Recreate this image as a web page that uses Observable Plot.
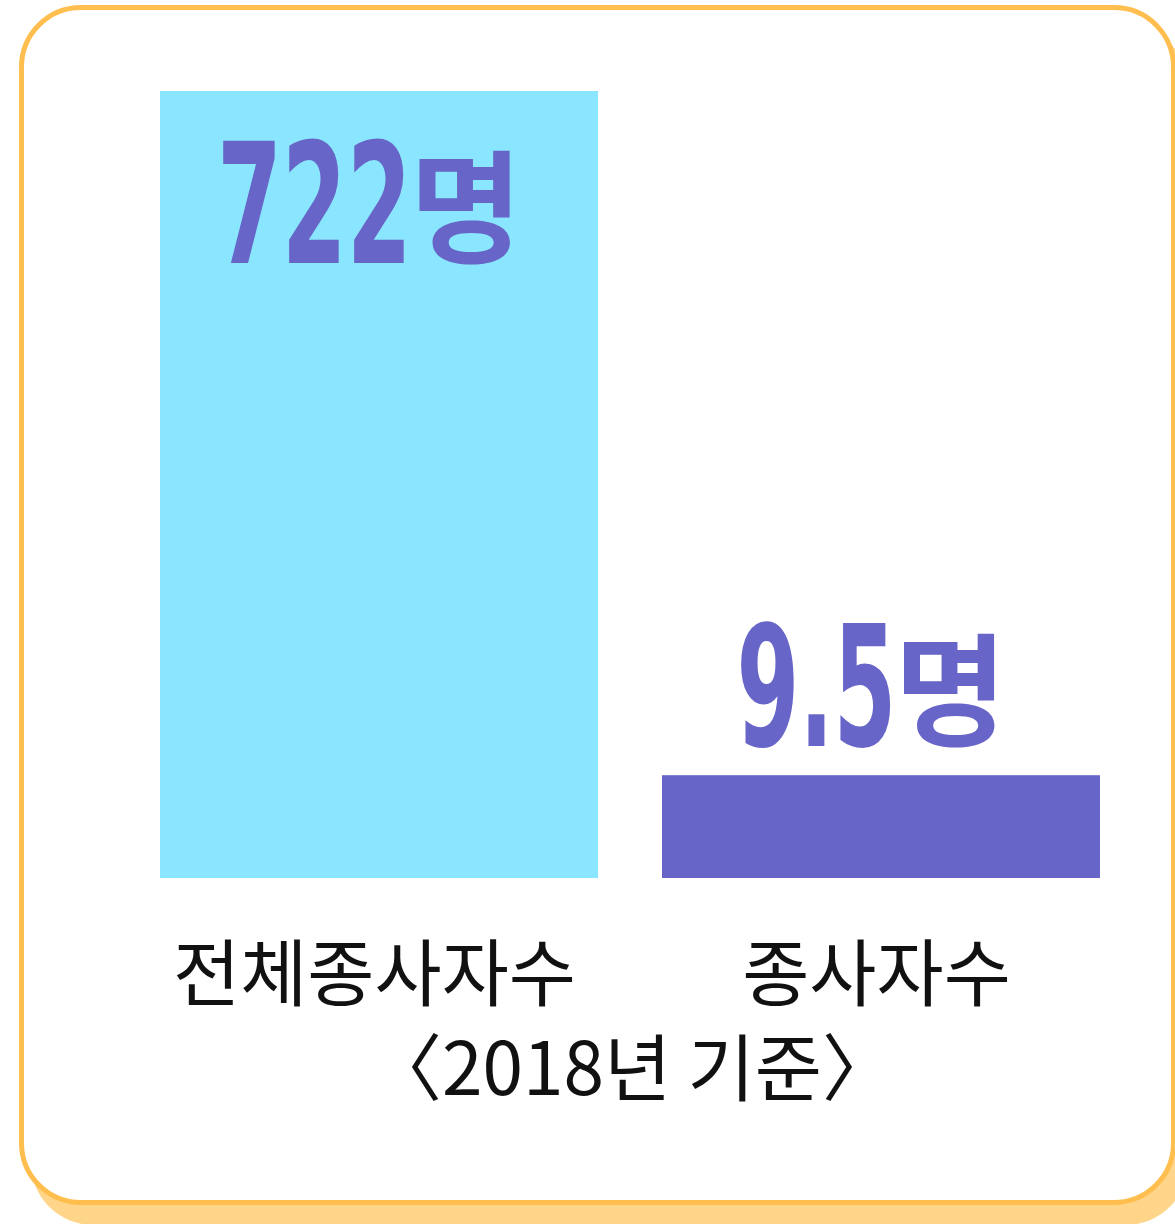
<!DOCTYPE html>
<html>
<head>
<meta charset="utf-8">
<script src="https://cdn.jsdelivr.net/npm/d3@7"></script>
<script src="https://cdn.jsdelivr.net/npm/@observablehq/plot@0.6"></script>
<style>
  html, body { margin: 0; padding: 0; background: #fff; }
  #wrap { position: relative; width: 1175px; height: 1224px; overflow: hidden; font-family: "Noto Sans CJK KR", sans-serif; }
  #shadow { position: absolute; left: 31px; top: 25px; width: 1157px; height: 1200px; border-radius: 62px; background: #FFD58A; }
  #box { position: absolute; left: 19px; top: 5px; width: 1157px; height: 1200px; box-sizing: border-box; border: 5px solid #FFBE4D; border-radius: 62px; background: #fff; }
  #chart { position: absolute; left: 0; top: 0; }
  #caption { position: absolute; top: 1027px; left: 632px; transform: translateX(-50%); white-space: nowrap;
             font-family: "Noto Sans CJK KR", sans-serif; font-size: 73px; line-height: 1; color: #111; }
</style>
</head>
<body>
<div id="wrap">
  <div id="shadow"></div>
  <div id="box"></div>
  <div id="chart"></div>
  <div id="caption">〈2018년 기준〉</div>
</div>
<script>
// ---- data ----
const categories = ["전체종사자수", "종사자수"];
const values = [722, 9.5];
const valueLabels = ["722", "9.5"];
const unit = "명";
const colors = ["#8AE6FE", "#6865C8"];

const data = categories.map((c, i) => ({category: c, value: values[i], label: valueLabels[i], color: colors[i]}));
const maxValue = d3.max(values);
const inside = data.filter(d => d.value === maxValue);
const above = data.filter(d => d.value !== maxValue);

const labelColor = "#6865C8";
const labelOpts = {
  x: "category", y: "value", text: "label",
  textAnchor: "middle", lineAnchor: "bottom",
  fill: labelColor, fontSize: 168, fontWeight: "bold",
  fontFamily: "'Liberation Sans Narrow', 'DejaVu Sans Condensed', Roboto, sans-serif",
  dx: -10
};

const plot = Plot.plot({
  width: 1175,
  height: 1024,
  marginLeft: 160,
  marginRight: 74,
  marginTop: 91,
  marginBottom: 146,
  style: {background: "none", color: "#111"},
  x: {type: "band", domain: categories, paddingInner: 0.127, paddingOuter: 0, label: null},
  y: {type: "pow", exponent: 0.47, domain: [0, maxValue], axis: null},
  color: {type: "identity"},
  marks: [
    Plot.barY(data, {x: "category", y: "value", fill: "color"}),
    Plot.text(inside, {...labelOpts, dy: 171}),
    Plot.text(above, {...labelOpts, dy: -30}),
    Plot.axisX({tickSize: 0, tickPadding: 70, fontSize: 73, fill: "#111", label: null, dx: -5,
                fontFamily: "'Noto Sans CJK KR', sans-serif"})
  ]
});

// split value labels into condensed number + unit
const digitW = 65, dotW = 30;
d3.select(plot).selectAll("text")
  .filter(function() { return valueLabels.includes(this.textContent); })
  .each(function() {
    const t = d3.select(this);
    const num = this.textContent;
    t.text("");
    const len = Array.from(num).reduce((s, ch) => s + (ch === "." ? dotW : digitW), 0);
    t.append("tspan").text(num)
      .attr("textLength", len).attr("lengthAdjust", "spacingAndGlyphs");
    t.append("tspan").text(unit)
      .attr("dx", -2)
      .attr("dy", -10)
      .attr("font-family", "'Noto Sans CJK KR', sans-serif")
      .attr("font-size", 122)
      .attr("font-weight", "bold");
  });

document.getElementById("chart").appendChild(plot);
</script>
</body>
</html>
